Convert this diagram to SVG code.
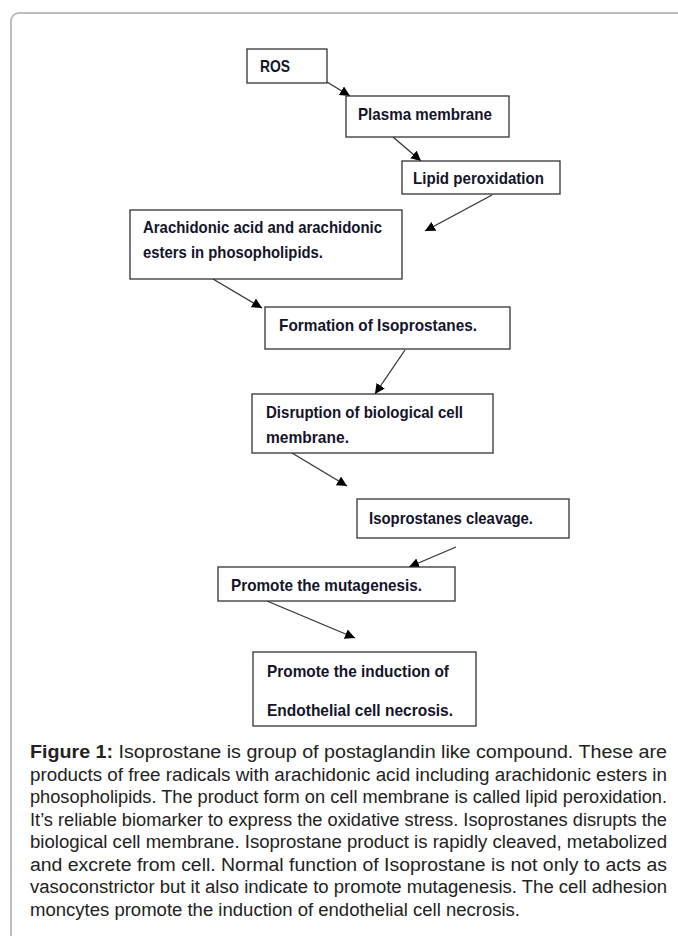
<svg xmlns="http://www.w3.org/2000/svg" width="678" height="936" viewBox="0 0 678 936">
<style>
.box{fill:#fff;stroke:#333;stroke-width:1.3}
.bt{font-family:"Liberation Sans",Arial,sans-serif;font-weight:bold;font-size:17px;fill:#14142a}
.cap{font-family:"Liberation Sans",Arial,sans-serif;font-size:18px;fill:#222}
.conn line{stroke:#333;stroke-width:1.3;marker-end:url(#ah)}
</style>
<defs>
<marker id="ah" viewBox="0 0 10 10" refX="10" refY="5" markerWidth="10" markerHeight="10" markerUnits="userSpaceOnUse" orient="auto">
<path d="M0,0 L10,5 L0,10 z" fill="#000"/>
</marker>
</defs>
<rect x="11" y="13" width="720" height="980" rx="8" fill="#fff" stroke="#bdbdbd" stroke-width="2"/>
<g class="conn">
<line x1="327" y1="82" x2="350" y2="96"/>
<line x1="393" y1="137" x2="421" y2="161"/>
<line x1="492" y1="195" x2="425" y2="231"/>
<line x1="213" y1="279" x2="262" y2="308"/>
<line x1="405" y1="350" x2="375" y2="394"/>
<line x1="292" y1="453" x2="347" y2="486"/>
<line x1="456" y1="547" x2="409" y2="567"/>
<line x1="267" y1="601" x2="355" y2="638"/>
</g>
<g id="ros"><rect class="box" x="247" y="49" width="80" height="34"/><text class="bt" x="260" y="72" textLength="30" lengthAdjust="spacingAndGlyphs">ROS</text></g>
<g id="plasma"><rect class="box" x="346" y="96" width="163" height="41"/><text class="bt" x="358" y="120" textLength="134" lengthAdjust="spacingAndGlyphs">Plasma membrane</text></g>
<g id="lipid"><rect class="box" x="402" y="161" width="158" height="33"/><text class="bt" x="413" y="184" textLength="131" lengthAdjust="spacingAndGlyphs">Lipid peroxidation</text></g>
<g id="arachidonic"><rect class="box" x="130" y="210" width="272" height="69"/><text class="bt" x="143" y="233" textLength="239" lengthAdjust="spacingAndGlyphs">Arachidonic acid  and arachidonic</text><text class="bt" x="143" y="258" textLength="180" lengthAdjust="spacingAndGlyphs">esters in  phosopholipids.</text></g>
<g id="formation"><rect class="box" x="265" y="307" width="245" height="42"/><text class="bt" x="279" y="331" textLength="198" lengthAdjust="spacingAndGlyphs">Formation of Isoprostanes.</text></g>
<g id="disruption"><rect class="box" x="252" y="394" width="241" height="59"/><text class="bt" x="266" y="418" textLength="197" lengthAdjust="spacingAndGlyphs">Disruption of biological  cell</text><text class="bt" x="266" y="443" textLength="83" lengthAdjust="spacingAndGlyphs">membrane.</text></g>
<g id="cleavage"><rect class="box" x="357" y="499" width="212" height="39"/><text class="bt" x="369" y="524" textLength="164" lengthAdjust="spacingAndGlyphs">Isoprostanes cleavage.</text></g>
<g id="mutagenesis"><rect class="box" x="218" y="567" width="237" height="34"/><text class="bt" x="231" y="591" textLength="191" lengthAdjust="spacingAndGlyphs">Promote the mutagenesis.</text></g>
<g id="induction"><rect class="box" x="253" y="652" width="223" height="74"/><text class="bt" x="267" y="677" textLength="182" lengthAdjust="spacingAndGlyphs">Promote the induction of</text><text class="bt" x="267" y="716" textLength="186" lengthAdjust="spacingAndGlyphs">Endothelial cell necrosis.</text></g>
<g id="caption">
<text class="cap" x="30" y="758" textLength="637" lengthAdjust="spacingAndGlyphs"><tspan font-weight="bold">Figure 1:</tspan> Isoprostane is group of postaglandin like compound. These are</text>
<text class="cap" x="30" y="780.5" textLength="637" lengthAdjust="spacingAndGlyphs">products of free radicals with arachidonic acid including arachidonic esters in</text>
<text class="cap" x="30" y="803" textLength="637" lengthAdjust="spacingAndGlyphs">phosopholipids. The product form on cell membrane is called lipid peroxidation.</text>
<text class="cap" x="30" y="825.5" textLength="637" lengthAdjust="spacingAndGlyphs">It’s reliable biomarker to express the oxidative stress. Isoprostanes disrupts the</text>
<text class="cap" x="30" y="848" textLength="637" lengthAdjust="spacingAndGlyphs">biological cell membrane. Isoprostane product is rapidly cleaved, metabolized</text>
<text class="cap" x="30" y="870.5" textLength="637" lengthAdjust="spacingAndGlyphs">and excrete from cell. Normal function of Isoprostane is not only to acts as</text>
<text class="cap" x="30" y="893" textLength="637" lengthAdjust="spacingAndGlyphs">vasoconstrictor but it also indicate to promote mutagenesis. The cell adhesion</text>
<text class="cap" x="30" y="915.5" textLength="490" lengthAdjust="spacingAndGlyphs">moncytes promote the induction of endothelial cell necrosis.</text>
</g>
</svg>
